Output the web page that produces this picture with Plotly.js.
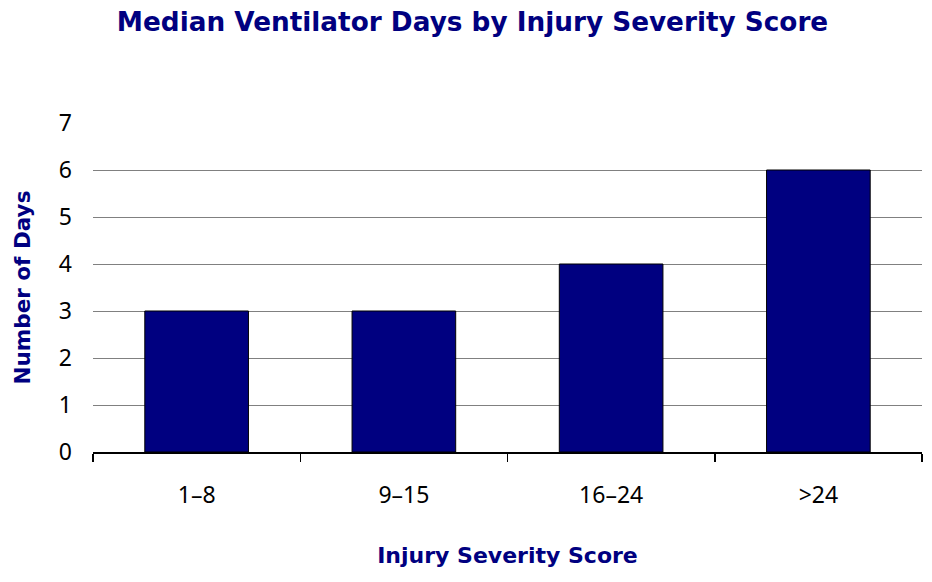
<!DOCTYPE html>
<html><head><meta charset="utf-8">
<script src="https://cdn.plot.ly/plotly-3.0.1.min.js"></script>
<style>html,body{margin:0;padding:0;background:#fff}#c{width:932px;height:582px}</style>
</head><body><div id="c"></div>
<script>
const categories = ["1–8", "9–15", "16–24", ">24"];
const medianDays = [3, 3, 4, 6];
const yTicks = [0, 1, 2, 3, 4, 5, 6, 7];

const navy = "#000080";
const trace = {
  type: "bar",
  x: categories,
  y: medianDays,
  width: 0.5,
  marker: {color: navy, line: {color: "#000000", width: 1}},
  hoverinfo: "x+y"
};
const layout = {
  width: 932, height: 582,
  margin: {l: 93, r: 10, t: 123, b: 130},
  paper_bgcolor: "#ffffff", plot_bgcolor: "#ffffff",
  showlegend: false,
  title: {text: "<b>Median Ventilator Days by Injury Severity Score</b>",
    font: {family: "DejaVu Sans", size: 26.3, color: navy},
    x: 0.507, xanchor: "center", y: 0.962, yanchor: "middle"},
  xaxis: {
    type: "category",
    tickson: "boundaries", ticks: "outside", ticklen: 8, tickwidth: 1.5, tickcolor: "#000",
    showline: true, linecolor: "#000", linewidth: 1.5,
    showgrid: false, zeroline: false,
    tickfont: {family: "Noto Sans", size: 23, color: "#000"},
    ticklabelstandoff: 22,
    title: {text: "<b>Injury Severity Score</b>", font: {family: "DejaVu Sans", size: 22, color: navy}, standoff: 38}
  },
  yaxis: {
    range: [0, 7], tickvals: yTicks, ticktext: yTicks.map(String),
    showline: false, ticks: "", showgrid: true, gridcolor: "#808080", gridwidth: 1,
    zeroline: false,
    tickfont: {family: "Noto Sans", size: 23, color: "#000"},
    ticklabelstandoff: 20,
    title: {text: "<b>Number of Days</b>", font: {family: "DejaVu Sans", size: 21.5, color: navy}, standoff: 22}
  }
};
Plotly.newPlot("c", [trace], layout, {displayModeBar: false, staticPlot: true});
</script></body></html>
